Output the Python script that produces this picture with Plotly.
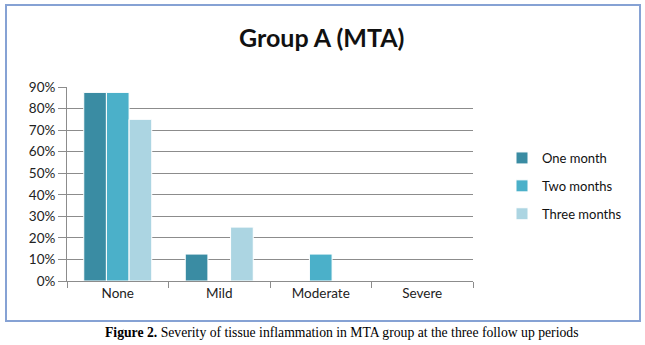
import plotly.graph_objects as go

categories = ["None", "Mild", "Moderate", "Severe"]
one_month = [0.875, 0.125, 0.0, 0.0]
two_months = [0.875, 0.0, 0.125, 0.0]
three_months = [0.75, 0.25, 0.0, 0.0]
series_names = ["One month", "Two months", "Three months"]
colors = ["#3a8ca3", "#4bb0c9", "#acd5e2"]
tick_vals = [i / 10 for i in range(10)]
tick_text = [f"{i*10}%" for i in range(10)]

W, H = 645, 345
ml, mr, mt, mb = 67, 172, 87, 64
pw = W - ml - mr
ph = H - mt - mb

def px(x):
    return (x - ml) / pw

def py(y):
    return (H - mb - y) / ph

fig = go.Figure()
for name, vals, col in zip(series_names, [one_month, two_months, three_months], colors):
    fig.add_trace(go.Bar(
        x=categories, y=vals, name=name, legendgroup=name,
        marker=dict(color=col, line=dict(color="white", width=1)),
    ))

fig.update_layout(
    width=W, height=H,
    margin=dict(l=ml, r=mr, t=mt, b=mb),
    paper_bgcolor="white", plot_bgcolor="white",
    barmode="group", bargap=0.33, bargroupgap=0.0,
    font=dict(family="Lato, Open Sans, sans-serif", size=13, color="#222"),
    showlegend=True,
    legend=dict(x=px(502), y=py(143), xanchor="left", yanchor="top",
                font=dict(size=13, color="#111"), tracegroupgap=8,
                itemwidth=30, bgcolor="rgba(0,0,0,0)"),
    xaxis=dict(showline=True, linecolor="#8c8c8c", linewidth=1,
               ticks="outside", tickcolor="#8c8c8c", ticklen=6,
               tickson="boundaries", tickfont=dict(size=13.5, color="#222"),
               showgrid=False),
    yaxis=dict(range=[0, 0.9], tickvals=tick_vals, ticktext=tick_text,
               showline=True, linecolor="#8c8c8c", linewidth=1,
               ticks="outside", tickcolor="#8c8c8c", ticklen=8,
               gridcolor="#8c8c8c", gridwidth=1, zeroline=False,
               tickfont=dict(size=13.5, color="#222")),
    shapes=[dict(type="rect", xref="paper", yref="paper",
                 x0=px(6), x1=px(640), y0=py(321), y1=py(5),
                 line=dict(color="#86a2d4", width=2), layer="below")],
    annotations=[
        dict(text="<b>Group A (MTA)</b>", xref="paper", yref="paper",
             x=px(321), y=py(37), xanchor="center", yanchor="middle",
             showarrow=False, font=dict(size=25, color="#111",
                                        family="Lato, Open Sans, sans-serif")),
        dict(text="<b>Figure 2.</b> Severity of tissue inflammation in MTA group at the three follow up periods",
             xref="paper", yref="paper", x=px(341), y=py(332),
             xanchor="center", yanchor="middle", showarrow=False,
             font=dict(size=13.7, color="#000",
                       family="Liberation Serif, Times New Roman, serif")),
    ],
)

fig.write_html("out.html")
